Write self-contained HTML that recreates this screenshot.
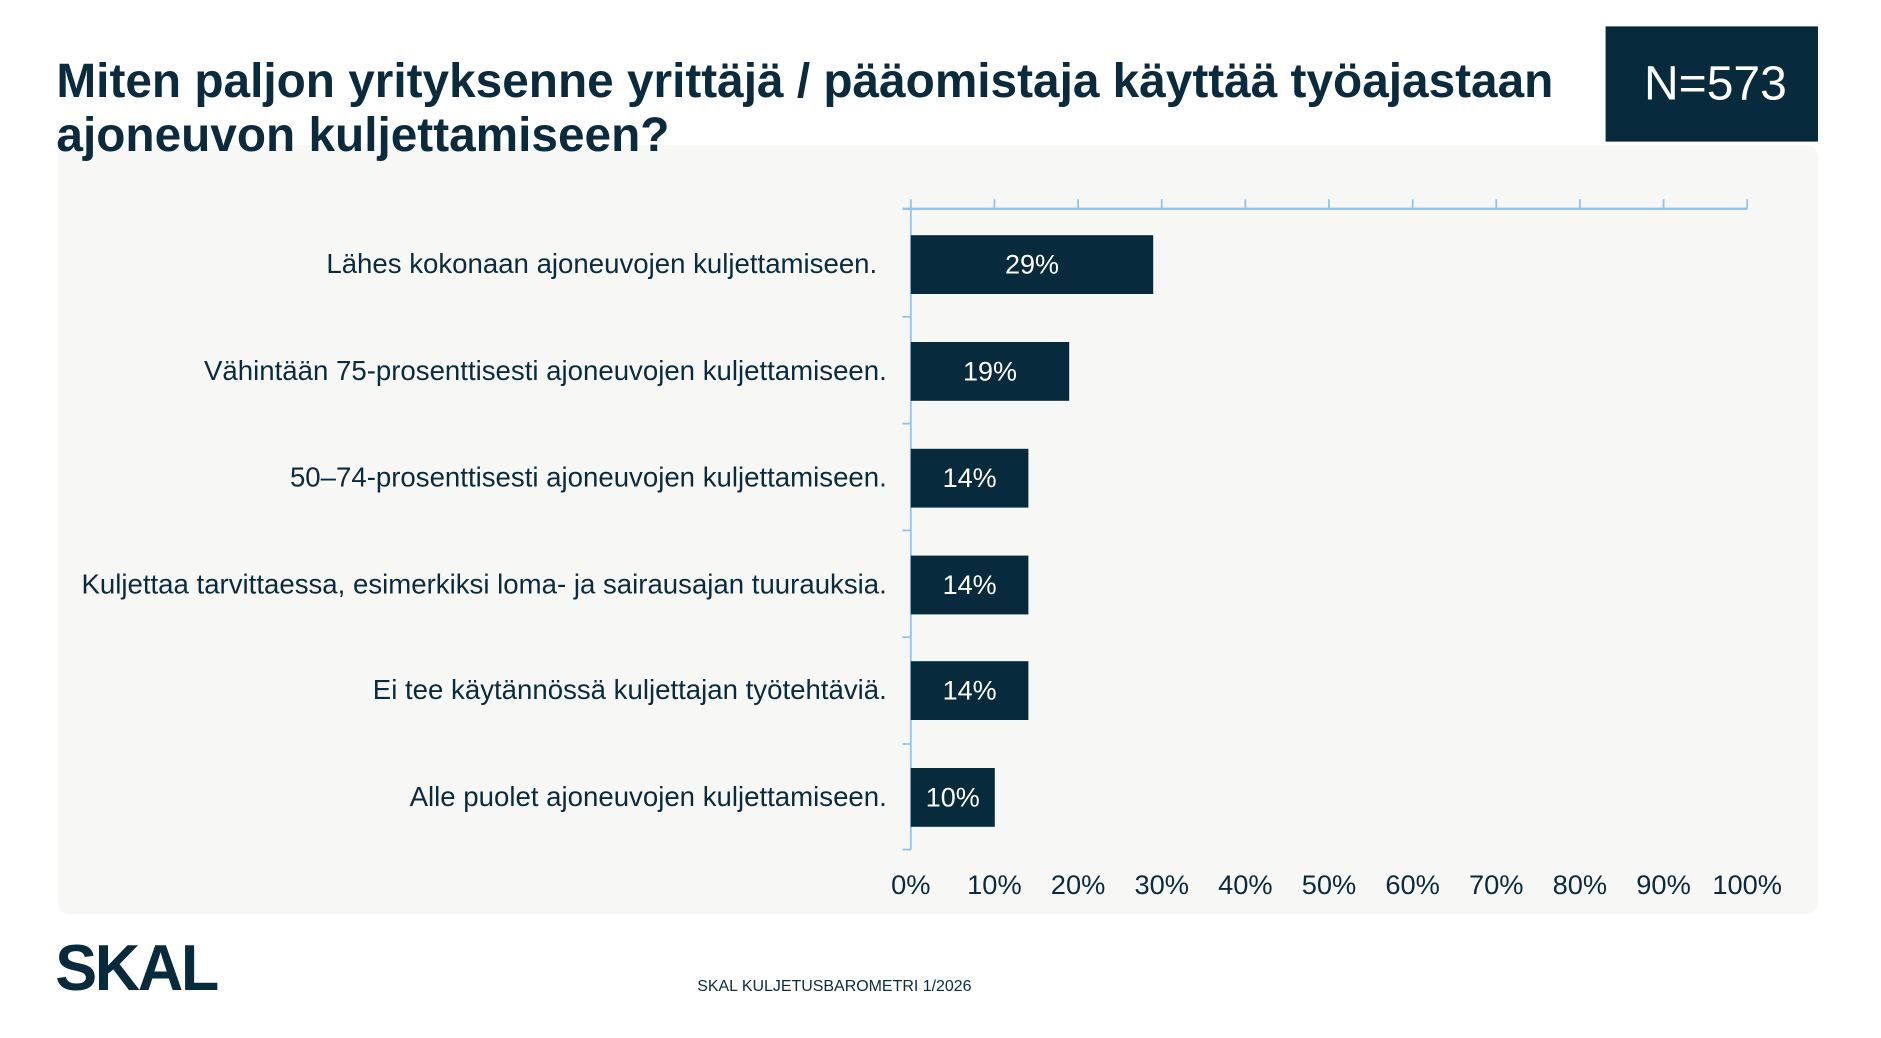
<!DOCTYPE html>
<html><head><meta charset="utf-8"><style>
html,body{margin:0;padding:0;background:#fff;overflow:hidden}
#w{position:absolute;left:0;top:0;width:1570px;height:865px;transform:scale(1.2,1.2);transform-origin:0 0;font-family:"Liberation Sans",Arial,sans-serif;color:#0a2b3d}
.t{position:absolute;left:47px;top:46px;font-size:39.8px;font-weight:bold;line-height:45px;margin:0;color:#0a2b3d;z-index:2;white-space:nowrap}
.n{position:absolute;left:1338px;top:22px;width:177px;height:96px;background:#072a3c;color:#fff;font-size:40px;display:flex;align-items:center;justify-content:center;padding-left:6px;box-sizing:border-box}
.p{position:absolute;left:48px;top:121px;width:1467px;height:641px;background:#f7f7f5;border-radius:10px}
.lab{position:absolute;right:831px;font-size:23px;white-space:nowrap;transform:translateY(-50%)}
.bar{position:absolute;left:759px;height:49px;background:#072a3c;color:#fff;font-size:22.5px;display:flex;align-items:center;justify-content:center}
.tk{position:absolute;top:724px;font-size:22.7px;width:70px;margin-left:-35px;text-align:center}
.logo{position:absolute;left:46px;top:780px;font-size:54px;font-weight:900;letter-spacing:-2px;transform:scaleX(0.97);transform-origin:0 0;line-height:54px;color:#072a3c}
.f{position:absolute;left:581px;top:814px;font-size:13.3px}
</style></head><body><div id="w">
<div class="p"></div>
<h1 class="t">Miten paljon yrityksenne yrittäjä / pääomistaja käyttää työajastaan<br>ajoneuvon kuljettamiseen?</h1>
<div class="n">N=573</div>
<svg style="position:absolute;left:0;top:0" width="1570" height="865">
<g stroke="#8ec5e8" stroke-width="1.5" fill="none">
<line x1="752" y1="174" x2="1456" y2="174" stroke-width="2"/>
<line x1="759" y1="166" x2="759" y2="708"/>
<line x1="828.7" y1="166" x2="828.7" y2="174"/><line x1="898.4" y1="166" x2="898.4" y2="174"/><line x1="968.1" y1="166" x2="968.1" y2="174"/><line x1="1037.8" y1="166" x2="1037.8" y2="174"/><line x1="1107.5" y1="166" x2="1107.5" y2="174"/><line x1="1177.2" y1="166" x2="1177.2" y2="174"/><line x1="1246.9" y1="166" x2="1246.9" y2="174"/><line x1="1316.6" y1="166" x2="1316.6" y2="174"/><line x1="1386.3" y1="166" x2="1386.3" y2="174"/><line x1="1456" y1="166" x2="1456" y2="174"/>
<line x1="752" y1="264" x2="759" y2="264"/><line x1="752" y1="353" x2="759" y2="353"/><line x1="752" y1="442" x2="759" y2="442"/><line x1="752" y1="531" x2="759" y2="531"/><line x1="752" y1="620" x2="759" y2="620"/><line x1="752" y1="708" x2="759" y2="708"/>
</g></svg>
<div class="lab" style="top:220px;right:839px">Lähes kokonaan ajoneuvojen kuljettamiseen.</div>
<div class="lab" style="top:309px">Vähintään 75-prosenttisesti ajoneuvojen kuljettamiseen.</div>
<div class="lab" style="top:398px">50–74-prosenttisesti ajoneuvojen kuljettamiseen.</div>
<div class="lab" style="top:487px">Kuljettaa tarvittaessa, esimerkiksi loma- ja sairausajan tuurauksia.</div>
<div class="lab" style="top:575px">Ei tee käytännössä kuljettajan työtehtäviä.</div>
<div class="lab" style="top:664px">Alle puolet ajoneuvojen kuljettamiseen.</div>
<div class="bar" style="top:196px;width:202px">29%</div>
<div class="bar" style="top:285px;width:132px">19%</div>
<div class="bar" style="top:374px;width:98px">14%</div>
<div class="bar" style="top:463px;width:98px">14%</div>
<div class="bar" style="top:551px;width:98px">14%</div>
<div class="bar" style="top:640px;width:70px">10%</div>
<div class="tk" style="left:759px">0%</div><div class="tk" style="left:828.7px">10%</div><div class="tk" style="left:898.4px">20%</div><div class="tk" style="left:968.1px">30%</div><div class="tk" style="left:1037.8px">40%</div><div class="tk" style="left:1107.5px">50%</div><div class="tk" style="left:1177.2px">60%</div><div class="tk" style="left:1246.9px">70%</div><div class="tk" style="left:1316.6px">80%</div><div class="tk" style="left:1386.3px">90%</div><div class="tk" style="left:1456px">100%</div>
<div class="logo">SKAL</div>
<div class="f">SKAL KULJETUSBAROMETRI 1/2026</div>
</div></body></html>
